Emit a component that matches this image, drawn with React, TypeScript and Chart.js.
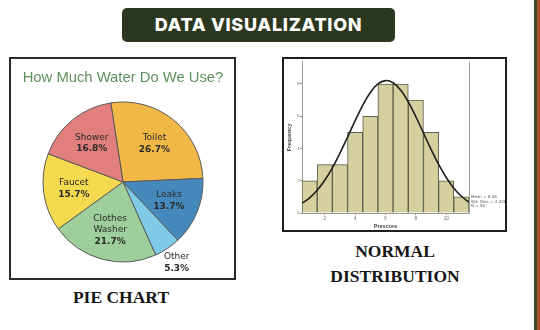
import React, { useEffect, useRef } from 'react';
import { Chart, registerables } from 'chart.js';

Chart.register(...registerables);

// ---------- Pie data ----------
const pieCategories = ['Toilet', 'Leaks', 'Other', 'Clothes Washer', 'Faucet', 'Shower'];
const pieLabelLines = [['Toilet'], ['Leaks'], ['Other'], ['Clothes', 'Washer'], ['Faucet'], ['Shower']];
const pieValues = [26.7, 13.7, 5.3, 21.7, 15.7, 16.8];
const pieColors = ['#F2B846', '#4589BC', '#7FCAE6', '#9DCE9C', '#F5DA4F', '#E07F7B'];
const pieTitle = 'How Much Water Do We Use?';

// ---------- Histogram data ----------
const histBins = [1, 2, 3, 4, 5, 6, 7, 8, 9, 10, 11];
const histCounts = [2, 3, 3, 5, 6, 8, 8, 7, 5, 2, 1];
const curveX = [0.5, 1, 1.5, 2, 2.5, 3, 3.5, 4, 4.5, 5, 5.5, 6, 6.5, 7, 7.5, 8, 8.5, 9, 9.5, 10, 10.5, 11, 11.5];
const curveY = [0.6, 0.94, 1.41, 2.03, 2.8, 3.71, 4.71, 5.73, 6.68, 7.47, 8.0, 8.21, 8.08, 7.62, 6.89, 5.97, 4.96, 3.95, 3.01, 2.2, 1.54, 1.04, 0.67];
const xTicks = [2, 4, 6, 8, 10];
const yTicks = [0, 2, 4, 6, 8];
const statsLines = ['Mean = 6.06', 'Std. Dev. = 2.428', 'N = 50'];

const pieLabelPlugin = {
  id: 'pieLabels',
  afterDatasetsDraw(chart: any) {
    const ctx = chart.ctx;
    const meta = chart.getDatasetMeta(0);
    meta.data.forEach((arc: any, i: number) => {
      const p = arc.getProps(['x', 'y', 'startAngle', 'endAngle', 'outerRadius'], true);
      const mid = (p.startAngle + p.endAngle) / 2;
      const f = i === 2 ? 1.21 : 0.62;
      const cx = p.x + Math.cos(mid) * p.outerRadius * f;
      const cy = p.y + Math.sin(mid) * p.outerRadius * f;
      const lines = pieLabelLines[i];
      const lh = 11.3;
      const n = lines.length + 1;
      const y0 = cy - ((n - 1) * lh) / 2;
      ctx.save();
      ctx.textAlign = 'center';
      ctx.textBaseline = 'middle';
      ctx.fillStyle = '#2a2a2a';
      ctx.font = '9px "DejaVu Sans", sans-serif';
      lines.forEach((t: string, k: number) => ctx.fillText(t, cx, y0 + k * lh));
      ctx.font = 'bold 9px "DejaVu Sans", sans-serif';
      ctx.fillText(pieValues[i].toFixed(1) + '%', cx, y0 + lines.length * lh);
      ctx.restore();
    });
  },
};

const histExtrasPlugin = {
  id: 'histExtras',
  afterDraw(chart: any) {
    const { ctx, chartArea } = chart;
    ctx.save();
    ctx.strokeStyle = '#9a9a9a';
    ctx.lineWidth = 1;
    ctx.beginPath();
    ctx.moveTo(chartArea.right + 0.5, chartArea.top);
    ctx.lineTo(chartArea.right + 0.5, chartArea.bottom);
    ctx.stroke();
    ctx.fillStyle = '#555';
    ctx.font = '4px "DejaVu Sans", sans-serif';
    ctx.textAlign = 'left';
    ctx.textBaseline = 'middle';
    statsLines.forEach((t, k) => ctx.fillText(t, chartArea.right + 2, chartArea.bottom - 16 + k * 4.6));
    ctx.restore();
  },
};

function PieChart() {
  const ref = useRef<HTMLCanvasElement>(null);
  useEffect(() => {
    const chart = new Chart(ref.current!, {
      type: 'pie',
      data: {
        labels: pieCategories,
        datasets: [
          {
            data: pieValues,
            backgroundColor: pieColors,
            borderColor: '#5a5a5a',
            borderWidth: 1,
          },
        ],
      },
      options: {
        animation: false,
        responsive: false,
        rotation: -8.8,
        radius: 80,
        layout: { padding: { left: 1, right: 0, top: 0, bottom: 16 } },
        plugins: {
          legend: { display: false },
          tooltip: { enabled: false },
          title: {
            display: true,
            text: pieTitle,
            color: '#5E8F5C',
            font: { family: '"Liberation Sans", Arial, sans-serif', size: 14.8, weight: 'normal', lineHeight: 1.2 },
            padding: { top: 10.1, bottom: 15.1 },
          },
        },
      } as any,
      plugins: [pieLabelPlugin],
    });
    return () => chart.destroy();
  }, []);
  return <canvas ref={ref} width={223} height={219} style={{ position: 'absolute', left: 11, top: 59, width: 223, height: 219 }} />;
}

function HistChart() {
  const ref = useRef<HTMLCanvasElement>(null);
  useEffect(() => {
    const chart = new Chart(ref.current!, {
      type: 'bar',
      data: {
        datasets: [
          {
            type: 'line',
            data: curveX.map((x, i) => ({ x, y: curveY[i] })),
            borderColor: '#1e1e1e',
            borderWidth: 1.6,
            pointRadius: 0,
            tension: 0.4,
            fill: false,
            order: 1,
          },
          {
            type: 'bar',
            data: histBins.map((x, i) => ({ x, y: histCounts[i] })),
            backgroundColor: '#D5D09E',
            borderColor: '#5c5c4a',
            borderWidth: 1,
            barPercentage: 1,
            categoryPercentage: 1,
            order: 2,
          },
        ],
      } as any,
      options: {
        animation: false,
        responsive: false,
        layout: { padding: { left: 0, right: 36, top: 0, bottom: 0 } },
        plugins: { legend: { display: false }, tooltip: { enabled: false } },
        scales: {
          x: {
            type: 'linear',
            offset: false,
            min: 0.5,
            max: 11.5,
            afterBuildTicks: (s: any) => {
              s.ticks = xTicks.map((v) => ({ value: v }));
            },
            afterFit: (s: any) => {
              s.height = 17;
            },
            grid: { display: true, offset: false, drawOnChartArea: false, drawTicks: true, tickLength: 2, color: '#888' },
            border: { display: true, color: '#9a9a9a' },
            ticks: { font: { size: 4.5 }, color: '#666', padding: 1, maxRotation: 0, autoSkip: false },
            title: { display: true, text: 'Prescore', color: '#444', font: { size: 5.5, weight: 'bold' }, padding: 0 },
          },
          y: {
            min: 0,
            max: 9.37,
            afterBuildTicks: (s: any) => {
              s.ticks = yTicks.map((v) => ({ value: v }));
            },
            afterFit: (s: any) => {
              s.width = 18;
            },
            grid: { display: true, drawOnChartArea: false, drawTicks: true, tickLength: 2, color: '#888' },
            border: { display: true, color: '#9a9a9a' },
            ticks: { font: { size: 4 }, color: '#666', padding: 0.5, autoSkip: false },
            title: { display: true, text: 'Frequency', color: '#444', font: { size: 5.5, weight: 'bold' }, padding: 2 },
          },
        },
      } as any,
      plugins: [histExtrasPlugin],
    });
    return () => chart.destroy();
  }, []);
  return <canvas ref={ref} width={221} height={171} style={{ position: 'absolute', left: 284, top: 59, width: 221, height: 171 }} />;
}

const headStyle: React.CSSProperties = {
  position: 'absolute',
  textAlign: 'center',
  fontFamily: '"Liberation Serif", "Times New Roman", serif',
  fontWeight: 'bold',
  fontSize: 17.5,
  color: '#161616',
  lineHeight: '25px',
  whiteSpace: 'nowrap',
};

export default function App() {
  return (
    <div style={{ position: 'fixed', left: 0, top: 0, width: 540, height: 330, background: '#ffffff', overflow: 'hidden' }}>
      <div
        style={{
          position: 'absolute',
          left: 122,
          top: 8,
          width: 273,
          height: 34,
          borderRadius: 5,
          background: '#2C3720',
          color: '#ffffff',
          fontFamily: 'Inter, "Open Sans", sans-serif',
          fontWeight: 800,
          fontSize: 18,
          lineHeight: '34px',
          textAlign: 'center',
          letterSpacing: 0.7,
        }}
      >
        DATA VISUALIZATION
      </div>

      <div style={{ position: 'absolute', left: 9, top: 57, width: 227, height: 223, border: '2px solid #2a2a2a', boxSizing: 'border-box' }} />
      <PieChart />

      <div style={{ position: 'absolute', left: 282, top: 57, width: 225, height: 175, border: '2px solid #1e1e1e', boxSizing: 'border-box' }} />
      <HistChart />

      <div style={{ ...headStyle, left: 23, width: 196, top: 285 }}>PIE CHART</div>
      <div style={{ ...headStyle, left: 295, width: 200, top: 239 }}>NORMAL</div>
      <div style={{ ...headStyle, left: 295, width: 200, top: 264 }}>DISTRIBUTION</div>

      <div style={{ position: 'absolute', left: 534, top: 0, width: 3, height: 330, background: '#3B4A2B' }} />
      <div style={{ position: 'absolute', left: 537, top: 0, width: 3, height: 330, background: '#A9552B' }} />
    </div>
  );
}
